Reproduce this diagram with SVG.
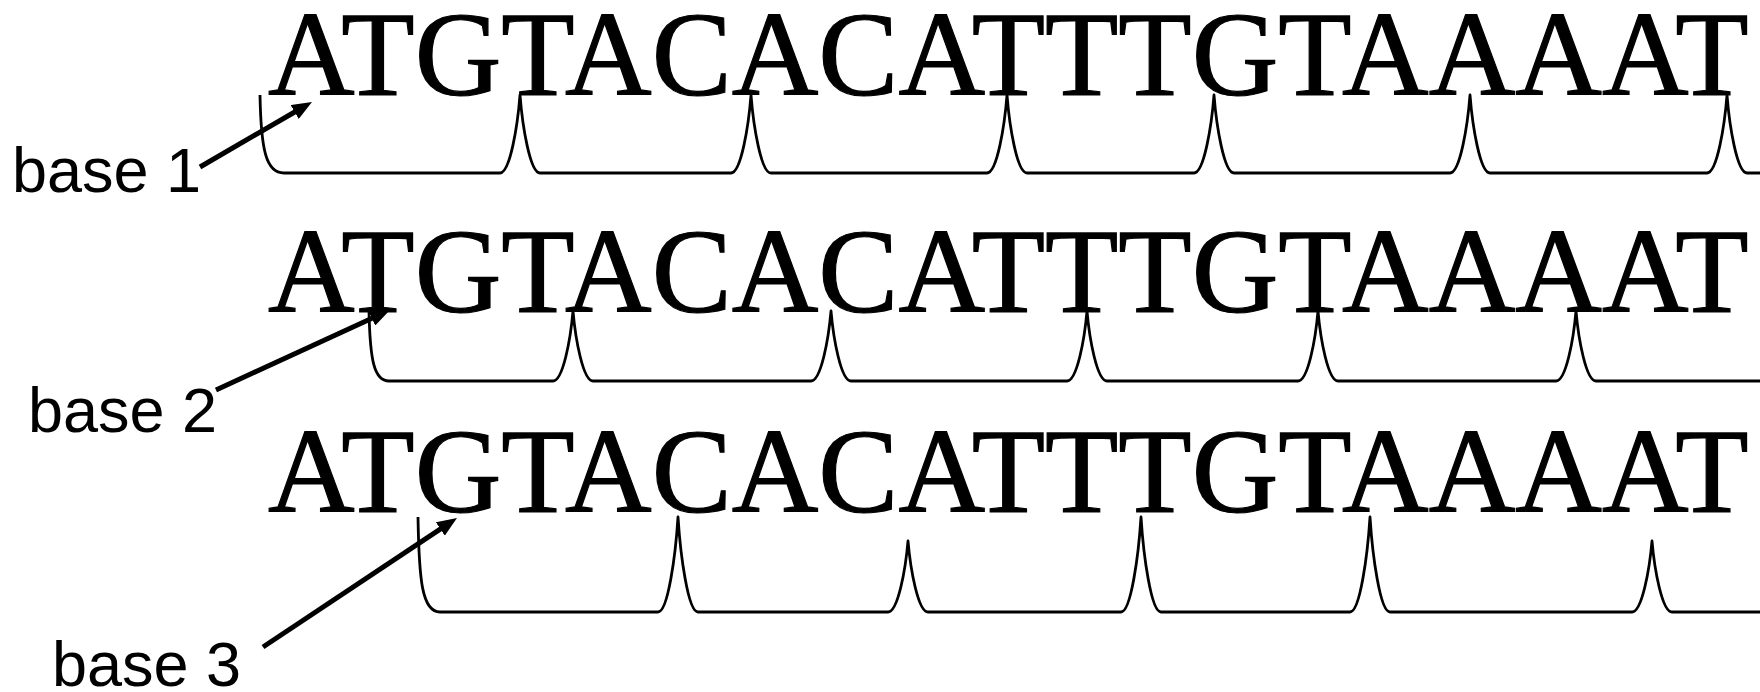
<svg xmlns="http://www.w3.org/2000/svg" width="1760" height="692" viewBox="0 0 1760 692">
  <style>
    .seq { font-family: "Liberation Serif", "Times New Roman", serif; font-size: 120px; fill: #000; stroke: #000; stroke-width: 1.2; }
    .lbl { font-family: "Liberation Sans", Arial, sans-serif; font-size: 63px; fill: #000; }
    .codon { fill: none; stroke: #000; stroke-width: 2.8; stroke-linejoin: round; }
    .arrow { fill: none; stroke: #000; stroke-width: 5; marker-end: url(#head); }
  </style>
  <defs>
    <marker id="head" viewBox="0 0 20 16" refX="8" refY="8" markerWidth="20" markerHeight="16" markerUnits="userSpaceOnUse" orient="auto">
      <path d="M0,0 L20,8 L0,16 z" fill="#000"/>
    </marker>
  </defs>
  <rect width="1760" height="692" fill="#fff"/>

  <!-- reading frame 1 -->
  <g id="frame1">
    <text class="seq" x="268" y="95">ATGTACACATTTGTAAAAT</text>
    <path class="codon" d="M260,95 C261,150 266,173 284,173
      L500,173 C510,173 517.6,126 520,95 C522.4,126 530,173 540,173
      L731,173 C741,173 748.6,126 751,95 C753.4,126 761,173 771,173
      L987,173 C997,173 1004.6,126 1007,95 C1009.4,126 1017,173 1027,173
      L1194,173 C1204,173 1211.6,126 1214,95 C1216.4,126 1224,173 1234,173
      L1450,173 C1460,173 1467.6,126 1470,95 C1472.4,126 1480,173 1490,173
      L1707,173 C1717,173 1724.6,126 1727,95 C1729.4,126 1737,173 1747,173
      L1762,173"/>
  </g>

  <!-- reading frame 2 -->
  <g id="frame2">
    <text class="seq" x="268" y="312">ATGTACACATTTGTAAAAT</text>
    <path class="codon" d="M369,311 C370,360 374,381 389,381
      L553,381 C563,381 570.6,339 573,311 C575.4,339 583,381 593,381
      L811,381 C821,381 828.6,339 831,311 C833.4,339 841,381 851,381
      L1067,381 C1077,381 1084.6,339 1087,311 C1089.4,339 1097,381 1107,381
      L1298,381 C1308,381 1315.6,339 1318,311 C1320.4,339 1328,381 1338,381
      L1556,381 C1566,381 1573.6,339 1576,311 C1578.4,339 1586,381 1596,381
      L1762,381"/>
  </g>

  <!-- reading frame 3 -->
  <g id="frame3">
    <text class="seq" x="268" y="512">ATGTACACATTTGTAAAAT</text>
    <path class="codon" d="M418,517 C419,580 422,612 440,612
      L658,612 C668,612 675.6,555 678,517 C680.4,555 688,612 698,612
      L888,612 C898,612 905.6,569 908,541 C910.4,569 918,612 928,612
      L1121,612 C1131,612 1138.6,555 1141,517 C1143.4,555 1151,612 1161,612
      L1350,612 C1360,612 1367.6,555 1370,517 C1372.4,555 1380,612 1390,612
      L1632,612 C1642,612 1649.6,569 1652,541 C1654.4,569 1662,612 1672,612
      L1762,612"/>
  </g>

  <g id="label1"><text class="lbl" x="12" y="192">base 1</text></g>
  <g id="label2"><text class="lbl" x="28" y="432">base 2</text></g>
  <g id="label3"><text class="lbl" x="52" y="686">base 3</text></g>

  <!-- pointers from labels to the first base of each frame -->
  <g id="connectors">
    <line class="arrow" x1="200" y1="167" x2="301.6" y2="108"/>
    <line class="arrow" x1="216" y1="390" x2="379.1" y2="315"/>
    <line class="arrow" x1="263" y1="647" x2="447" y2="524.6"/>
  </g>
</svg>
